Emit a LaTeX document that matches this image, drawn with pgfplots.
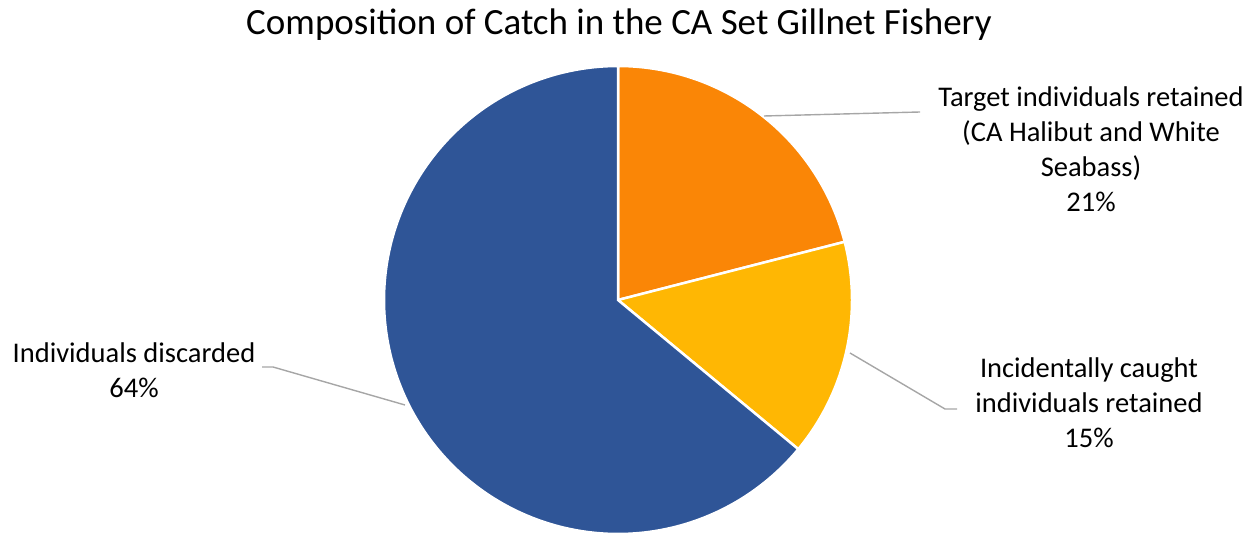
\documentclass[border=0pt]{standalone}
\usepackage{pgfplots}
\pgfplotsset{compat=1.18}
\usepackage{fontspec}
\setmainfont{Carlito}
\definecolor{cOrange}{RGB}{250,134,6}
\definecolor{cYellow}{RGB}{255,183,3}
\definecolor{cBlue}{RGB}{47,85,151}
\definecolor{cLead}{RGB}{166,166,166}
% shares (percent)
\def\vA{21}
\def\vB{15}
\def\vC{64}
\pgfmathsetmacro\aA{90}
\pgfmathsetmacro\aB{90-3.6*\vA}
\pgfmathsetmacro\aC{\aB-3.6*\vB}
\pgfmathsetmacro\aD{\aC-3.6*\vC}
\begin{document}
\begin{tikzpicture}
\begin{axis}[width=1260pt,height=538pt,scale only axis,
  xmin=0,xmax=1260,ymin=0,ymax=538,hide axis,clip=false]
\path (axis cs:0,0) rectangle (axis cs:1260,538);
\addplot[fill=cOrange,draw=white,line width=2.5pt,domain=\aB:\aA,samples=80]
  ({618+234*cos(x)},{238+234*sin(x)}) -- (axis cs:618,238) -- cycle;
\addplot[fill=cYellow,draw=white,line width=2.5pt,domain=\aC:\aB,samples=80]
  ({618+234*cos(x)},{238+234*sin(x)}) -- (axis cs:618,238) -- cycle;
\addplot[fill=cBlue,draw=white,line width=2.5pt,domain=\aD:\aC,samples=200]
  ({618+234*cos(x)},{238+234*sin(x)}) -- (axis cs:618,238) -- cycle;
% leader lines
\addplot[cLead,line width=1.4pt] coordinates {(764,422) (920,426)};
\addplot[cLead,line width=1.4pt] coordinates {(850,185) (945,129) (957,129)};
\addplot[cLead,line width=1.4pt] coordinates {(405,133) (273,171) (262,171)};
% title
\node[anchor=base,font=\fontsize{37}{44}\selectfont] at (axis cs:619,503) {Composition of Catch in the CA Set Gillnet Fishery};
% labels
\begin{scope}[every node/.style={anchor=base,font=\fontsize{28.5}{35}\selectfont,inner sep=0pt}]
\node at (axis cs:1091,431) {Target individuals retained};
\node at (axis cs:1091,396) {(CA Halibut and White};
\node at (axis cs:1091,361) {Seabass)};
\node at (axis cs:1091,326) {21\%};
\node at (axis cs:1089,160) {Incidentally caught};
\node at (axis cs:1089,125) {individuals retained};
\node at (axis cs:1089,90) {15\%};
\node at (axis cs:134,175) {Individuals discarded};
\node at (axis cs:134,140) {64\%};
\end{scope}
\end{axis}
\end{tikzpicture}
\end{document}
